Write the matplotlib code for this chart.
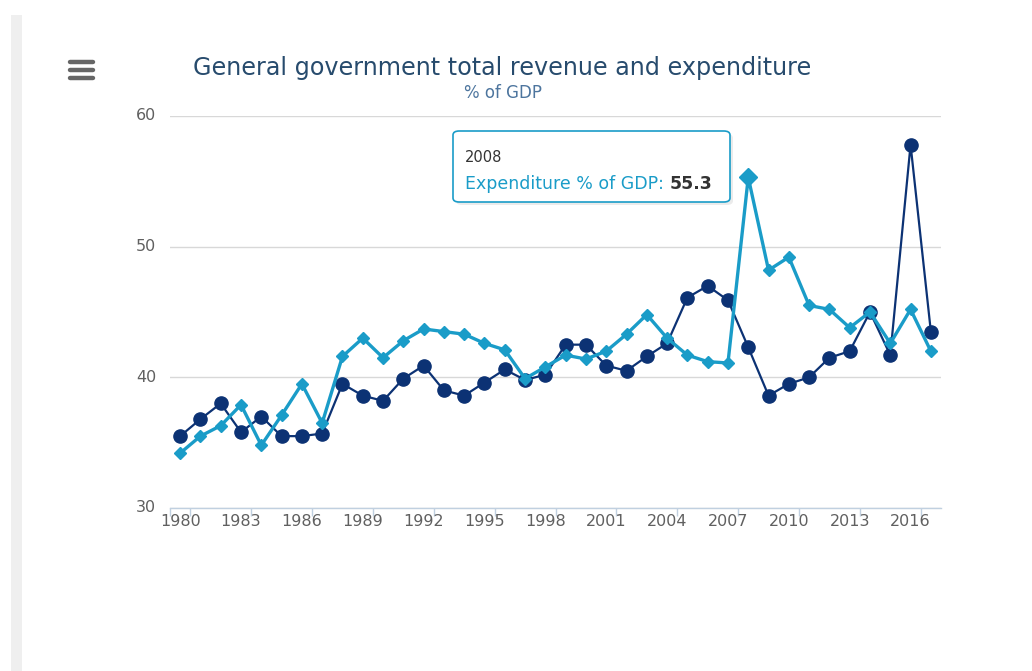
import matplotlib
matplotlib.use("Agg")
import matplotlib.pyplot as plt
from matplotlib.patches import FancyBboxPatch, Rectangle

# data (% of GDP)
years = list(range(1980, 2018))
revenue = [35.5, 36.8, 38.0, 35.8, 37.0, 35.5, 35.5, 35.7, 39.5, 38.6,
           38.2, 39.9, 40.9, 39.0, 38.6, 39.6, 40.6, 39.8, 40.2, 42.5,
           42.5, 40.9, 40.5, 41.6, 42.6, 46.1, 47.0, 45.9, 42.3, 38.6,
           39.5, 40.0, 41.5, 42.0, 45.0, 41.7, 57.8, 43.5]
expenditure = [34.2, 35.5, 36.3, 37.9, 34.8, 37.1, 39.5, 36.5, 41.6, 43.0,
               41.5, 42.8, 43.7, 43.5, 43.3, 42.6, 42.1, 39.9, 40.8, 41.7,
               41.4, 42.0, 43.3, 44.8, 43.0, 41.7, 41.2, 41.1, 55.3, 48.2,
               49.2, 45.5, 45.2, 43.8, 45.0, 42.6, 45.2, 42.0]
label_years = list(range(1980, 2017, 3))
y_ticks = [30, 40, 50, 60]
hover_year = 2008

title = "General government total revenue and expenditure"
subtitle = "% of GDP"
series_name = "Expenditure % of GDP"

REV_COLOR = "#0c3274"
EXP_COLOR = "#1a9cc8"
W, H = 1032, 671


def fx(x):
    return x / W


def fy(y):
    return 1 - y / H


fig = plt.figure(figsize=(W / 100, H / 100), dpi=100)
plt.rcParams['font.family'] = ['DejaVu Sans']

# light grey strip on the left edge of the page
fig.patches.append(Rectangle((fx(11), 0), fx(11), fy(15), transform=fig.transFigure,
                             facecolor="#efefef", edgecolor="none"))

# menu icon
for yy in [62, 70, 78]:
    fig.lines.append(plt.Line2D([fx(70), fx(93)], [fy(yy), fy(yy)], transform=fig.transFigure,
                                color="#666666", lw=3.2, solid_capstyle="round"))

ax = fig.add_axes([fx(170), fy(508), fx(941) - fx(170), fy(116) - fy(508)])

ax.plot(years, revenue, color=REV_COLOR, lw=1.6, marker="o", ms=9.5, zorder=3)
ax.plot(years, expenditure, color=EXP_COLOR, lw=2.4, marker="D", ms=6, zorder=4)
hi = years.index(hover_year)
ax.plot(years[hi], expenditure[hi], color=EXP_COLOR, marker="D", ms=9, zorder=5)

ax.set_xlim(1979.5, 2017.5)
ax.set_ylim(30, 60)

# ticks sit between categories, labels on the categories
ax.set_xticks([1979.5] + [y + 0.5 for y in label_years])
ax.set_xticklabels([])
ax.set_xticks(label_years, [str(y) for y in label_years], minor=True)
ax.tick_params(axis="x", which="major", length=6, width=1, color="#c0d0e0", direction="out")
ax.tick_params(axis="x", which="minor", length=0, pad=4, labelsize=11.5, labelcolor="#606060")

ax.set_yticks(y_ticks)
ax.tick_params(axis="y", length=0, pad=10, labelsize=11.5, labelcolor="#606060")
for lbl in ax.get_yticklabels():
    lbl.set_verticalalignment("center")

ax.grid(axis="y", color="#d8d8d8", lw=1)
ax.set_axisbelow(True)
for s in ["top", "right", "left"]:
    ax.spines[s].set_visible(False)
ax.spines["bottom"].set_color("#c0d0e0")
ax.spines["bottom"].set_linewidth(1)

fig.text(fx(502), fy(68), title, ha="center", va="center", fontsize=17.2, color="#274b6d")
fig.text(fx(503), fy(93), subtitle, ha="center", va="center", fontsize=12, color="#4d759e")

# tooltip
shadow = FancyBboxPatch((fx(456), fy(205)), fx(730) - fx(453), fy(131) - fy(202),
                        boxstyle="round,pad=0,rounding_size=0.006", transform=fig.transFigure,
                        facecolor="#000000", alpha=0.08, edgecolor="none", zorder=9)
box = FancyBboxPatch((fx(453), fy(202)), fx(730) - fx(453), fy(131) - fy(202),
                     boxstyle="round,pad=0,rounding_size=0.006", transform=fig.transFigure,
                     facecolor="white", edgecolor=EXP_COLOR, lw=1.2, zorder=10)
fig.patches.extend([shadow, box])
fig.text(fx(465), fy(158), str(hover_year), ha="left", va="center", fontsize=10.5,
         color="#333333", zorder=11)
t = fig.text(fx(465), fy(184), series_name + ": ", ha="left", va="center", fontsize=12.5,
             color=EXP_COLOR, zorder=11)
fig.canvas.draw()
bb = t.get_window_extent()
fig.text(fx(bb.x1), fy(184), f"{expenditure[hi]}", ha="left", va="center", fontsize=12.5,
         fontweight="bold", color="#333333", zorder=11)

fig.savefig("out.png", dpi=100)
